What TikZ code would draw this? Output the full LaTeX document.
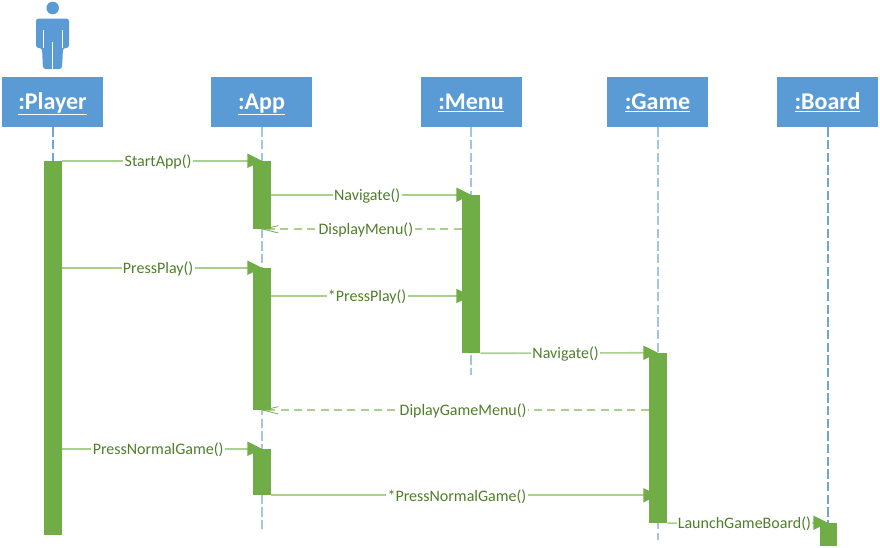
\documentclass[tikz,border=0pt]{standalone}
\usepackage{fontspec}
\setmainfont{Carlito}
\usetikzlibrary{arrows.meta,backgrounds}
\definecolor{hdr}{HTML}{5B9BD5}
\definecolor{barg}{HTML}{70AD47}
\definecolor{msgl}{HTML}{A9D18E}
\definecolor{labg}{HTML}{4F7F2A}
\definecolor{lifel}{HTML}{6FA6DA}
\definecolor{lifelb}{HTML}{A3C4E6}
\tikzset{
  header/.style={rectangle,fill=hdr,minimum width=101*0.75pt,minimum height=50*0.75pt,inner sep=0pt,text=white,text height=15.5pt,text depth=5pt,font=\fontsize{18pt}{20pt}\selectfont\bfseries},
  actbar/.style={rectangle,fill=barg,inner sep=0pt,minimum width=18*0.75pt},
  lifeline/.style={draw=lifel,line width=0.8pt,dash pattern=on 7pt off 2.5pt},
  lifelinepale/.style={lifeline,draw=lifelb},
  msg/.style={draw=msgl,line width=1.25pt,-{Triangle[length=11pt,width=10.5pt,color=barg]}},
  ret/.style={draw=msgl,line width=1.25pt,dash pattern=on 6pt off 4pt,-{Straight Barb[length=11pt,color=barg,line width=0.6pt,angle'=28]}},
  lab/.style={fill=white,inner xsep=1pt,inner ysep=0.5pt,text=labg,pos=0.48,yshift=-0.75pt,font=\fontsize{12pt}{13pt}\selectfont},
  figure/.style={fill=hdr,draw=none}
}
\begin{document}
\begin{tikzpicture}[x=0.75pt,y=-0.75pt]
\useasboundingbox (0,0) rectangle (880,547);
% actor
\fill[figure] (52.7,8) circle (6.3);
\fill[figure,rounded corners=2pt] (36,48) -- (36,18.5) -- (69,18.5) -- (69,48) -- (63,48) -- (62,69) -- (43,69) -- (42,48) -- cycle;
\draw[white,line width=0.6pt] (52.7,42) -- (52.7,69);
\draw[white,line width=0.6pt] (43,30) -- (43,48);
\draw[white,line width=0.6pt] (62,30) -- (62,48);
% headers
\node[header] (player) at (52.5,102) {\underline{:Player}};
\node[header] (app) at (261.5,102) {\underline{:App}};
\node[header] (menu) at (471,102) {\underline{:Menu}};
\node[header] (game) at (657.5,102) {\underline{:Game}};
\node[header] (board) at (827.5,102) {\underline{:Board}};
% activation bars
\node[actbar,minimum height=374*0.75pt] (pbar) at (53,348) {};
\node[actbar,minimum height=68*0.75pt] (abar1) at (262,195) {};
\node[actbar,minimum height=142*0.75pt] (abar2) at (262,339) {};
\node[actbar,minimum height=46*0.75pt] (abar3) at (262,472) {};
\node[actbar,minimum height=158*0.75pt] (mbar) at (471,274) {};
\node[actbar,minimum height=170*0.75pt] (gbar) at (658,438) {};
\node[actbar,minimum width=17*0.75pt,minimum height=23*0.75pt] (bbar) at (828,534.5) {};
\coordinate (append) at (262,530);
\coordinate (menuend) at (471,375);
\coordinate (gameend) at (658,540);
\coordinate (ppy) at (471,296);
\begin{scope}[on background layer]
\draw[lifeline] (pbar.north |- player.south) -- (pbar.north);
\draw[lifelinepale] (append |- app.south) -- (append);
\draw[lifelinepale] (menu.south) -- (menuend);
\draw[lifelinepale] (gameend |- game.south) -- (gameend);
\draw[lifeline] (bbar.north |- board.south) -- (bbar.north);
% messages
\draw[msg] (pbar.north east) -- node[lab]{StartApp()} (abar1.north);
\draw[msg] (abar1.east |- mbar.north) -- node[lab]{Navigate()} (mbar.north);
\draw[ret] (mbar.west |- abar1.south) -- node[lab]{DisplayMenu()} (abar1.south);
\draw[msg] (pbar.east |- abar2.north) -- node[lab]{PressPlay()} (abar2.north);
\draw[msg] (abar2.east |- ppy) -- node[lab]{*PressPlay()} (ppy);
\draw[msg] (mbar.south east) -- node[lab]{Navigate()} (gbar.north);
\draw[ret] (gbar.west |- abar2.south) -- node[lab]{DiplayGameMenu()} (abar2.south);
\draw[msg] (pbar.east |- abar3.north) -- node[lab]{PressNormalGame()} (abar3.north);
\draw[msg] (abar3.south east) -- node[lab]{*PressNormalGame()} (gbar.center |- abar3.south);
\draw[msg] (gbar.south east) -- node[lab]{LaunchGameBoard()} (bbar.north);
\end{scope}
\end{tikzpicture}
\end{document}
